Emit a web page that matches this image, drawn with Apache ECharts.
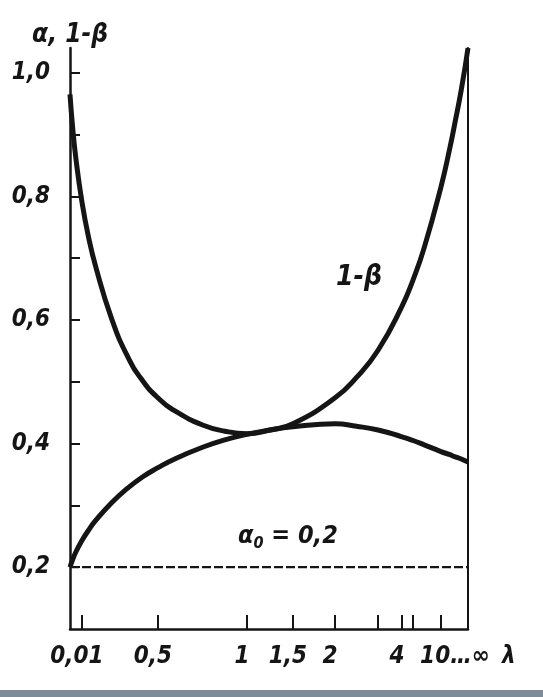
<!DOCTYPE html>
<html>
<head>
<meta charset="utf-8">
<title>α, 1-β</title>
<script src="https://cdn.jsdelivr.net/npm/echarts@6/dist/echarts.min.js"></script>
<style>
  html, body { margin: 0; padding: 0; background: #fff; }
  #chart { width: 543px; height: 697px; }
</style>
</head>
<body>
<div id="chart"></div>
<script>
const lambdas = [0, 0.002, 0.005, 0.01, 0.05, 0.1, 0.2, 0.3, 0.4, 0.5, 0.6, 0.75, 0.875, 1, 1.25, 1.5, 2, 2.5, 3, 4, 5, 7, 10, 15, 20, 40, Infinity]
// 1 - β
const power = [0.965, 0.916, 0.86, 0.791, 0.737, 0.685, 0.603, 0.543, 0.502, 0.474, 0.452, 0.43, 0.42, 0.416, 0.422, 0.432, 0.474, 0.507, 0.551, 0.622, 0.665, 0.717, 0.815, 0.879, 0.915, 0.972, 1.04]
// α
const alpha = [0.2, 0.211, 0.225, 0.243, 0.259, 0.276, 0.304, 0.327, 0.346, 0.361, 0.376, 0.394, 0.406, 0.415, 0.422, 0.427, 0.432, 0.428, 0.422, 0.411, 0.405, 0.398, 0.387, 0.382, 0.379, 0.375, 0.37]
const alpha0 = 0.2

const xTickValues = [0.01, 0.5, 1, 1.5, 2, 3, 4, 5, 10]
const xLabelValues = [0.01, 0.5, 1, 1.5, 2, 4, 10]
const xLabelTexts = ['0,01', '0,5', '1', '1,5', '2', '4', '10…∞']
const yTickValues = [0.2, 0.3, 0.4, 0.5, 0.6, 0.7, 0.8, 0.9, 1.0]
const yLabelValues = [0.2, 0.4, 0.6, 0.8, 1.0]

// the λ axis of the drawing is not linear: where each λ sits, as a share of the axis length
const scaleLambda = [0, 0.01, 0.5, 1, 1.5, 2, 3, 4, 5, 10]
const scaleShare = [0, 0.030, 0.221, 0.445, 0.560, 0.666, 0.774, 0.834, 0.862, 0.932]

function toAxis(l) {
  const n = scaleLambda.length - 1
  if (l === Infinity) return 1
  if (l >= scaleLambda[n]) {
    return scaleShare[n] + (1 - scaleLambda[n] / l) * (1 - scaleShare[n])
  }
  for (let i = 0; i < n; i++) {
    if (l <= scaleLambda[i + 1]) {
      const t = (l - scaleLambda[i]) / (scaleLambda[i + 1] - scaleLambda[i])
      return scaleShare[i] + t * (scaleShare[i + 1] - scaleShare[i])
    }
  }
  return 1
}

const ink = '#151515'
const font = '"DejaVu Sans Condensed", "Liberation Sans Narrow", "Liberation Sans", sans-serif'
const textBase = { color: ink, fontSize: 24, fontStyle: 'italic', fontWeight: 'bold', fontFamily: font }

function xLabel(u) {
  const i = xLabelValues.findIndex((l) => Math.abs(toAxis(l) - u) < 1e-6)
  if (i < 0) return ''
  if (xLabelValues[i] === 10) return '{far|' + xLabelTexts[i] + '}'
  return '{near|' + xLabelTexts[i] + '}'
}

const chart = echarts.init(document.getElementById('chart'))

chart.setOption({
  animation: false,
  backgroundColor: '#fff',
  grid: { left: 70, right: 75, top: 48, bottom: 68 },
  xAxis: {
    type: 'value',
    min: 0,
    max: 1,
    name: 'λ',
    nameLocation: 'end',
    nameGap: 34,
    nameTextStyle: { ...textBase, verticalAlign: 'top', padding: [16, 0, 0, 0] },
    axisLine: { onZero: false, lineStyle: { color: ink, width: 2.5 } },
    axisTick: {
      inside: true,
      length: 14,
      customValues: xTickValues.map(toAxis),
      lineStyle: { color: ink, width: 2 }
    },
    axisLabel: {
      ...textBase,
      customValues: xLabelValues.map(toAxis),
      formatter: xLabel,
      margin: 16,
      rich: {
        near: { ...textBase, padding: [0, 10, 0, 0] },
        far: { ...textBase, padding: [0, 0, 0, 28] }
      }
    },
    splitLine: { show: false }
  },
  yAxis: [
    {
      type: 'value',
      min: 0.1,
      max: 1.04,
      position: 'left',
      name: 'α, 1-β',
      nameLocation: 'end',
      nameGap: 0,
      nameTextStyle: { ...textBase, fontSize: 26 },
      axisLine: { show: true, lineStyle: { color: ink, width: 2.5 } },
      axisTick: {
        inside: true,
        length: 10,
        customValues: yTickValues,
        lineStyle: { color: ink, width: 2 }
      },
      axisLabel: {
        ...textBase,
        customValues: yLabelValues,
        formatter: (v) => v.toFixed(1).replace('.', ','),
        margin: 20
      },
      splitLine: { show: false }
    },
    {
      type: 'value',
      min: 0.1,
      max: 1.04,
      position: 'right',
      axisLine: { show: true, lineStyle: { color: ink, width: 2 } },
      axisTick: { show: false },
      axisLabel: { show: false },
      splitLine: { show: false }
    }
  ],
  series: [
    {
      name: '1-β',
      type: 'line',
      symbol: 'none',
      smooth: 0.5,
      data: lambdas.map((l, i) => [toAxis(l), power[i]]),
      lineStyle: { color: ink, width: 5 }
    },
    {
      name: 'α',
      type: 'line',
      symbol: 'none',
      smooth: 0.5,
      data: lambdas.map((l, i) => [toAxis(l), alpha[i]]),
      lineStyle: { color: ink, width: 5 }
    },
    {
      name: 'α0',
      type: 'line',
      symbol: 'none',
      data: [[toAxis(0), alpha0], [toAxis(Infinity), alpha0]],
      lineStyle: { color: ink, width: 2.2, type: [9, 3] }
    }
  ],
  graphic: [
    {
      type: 'text',
      left: 336,
      top: 264,
      style: {
        text: '1-β',
        fill: ink,
        fontSize: 28,
        fontStyle: 'italic',
        fontWeight: 'bold',
        fontFamily: font
      }
    },
    {
      type: 'text',
      left: 238,
      top: 524,
      style: {
        text: '{a|α}{s|0}{a| = 0,2}',
        rich: {
          a: { fill: ink, fontSize: 25, fontStyle: 'italic', fontWeight: 'bold', fontFamily: font },
          s: { fill: ink, fontSize: 16, fontStyle: 'italic', fontWeight: 'bold', fontFamily: font, padding: [14, 0, 0, 0] }
        }
      }
    },
    {
      type: 'rect',
      left: 0,
      top: 690,
      shape: { width: 543, height: 7 },
      style: { fill: '#7f8b97' }
    }
  ]
})
</script>
</body>
</html>
